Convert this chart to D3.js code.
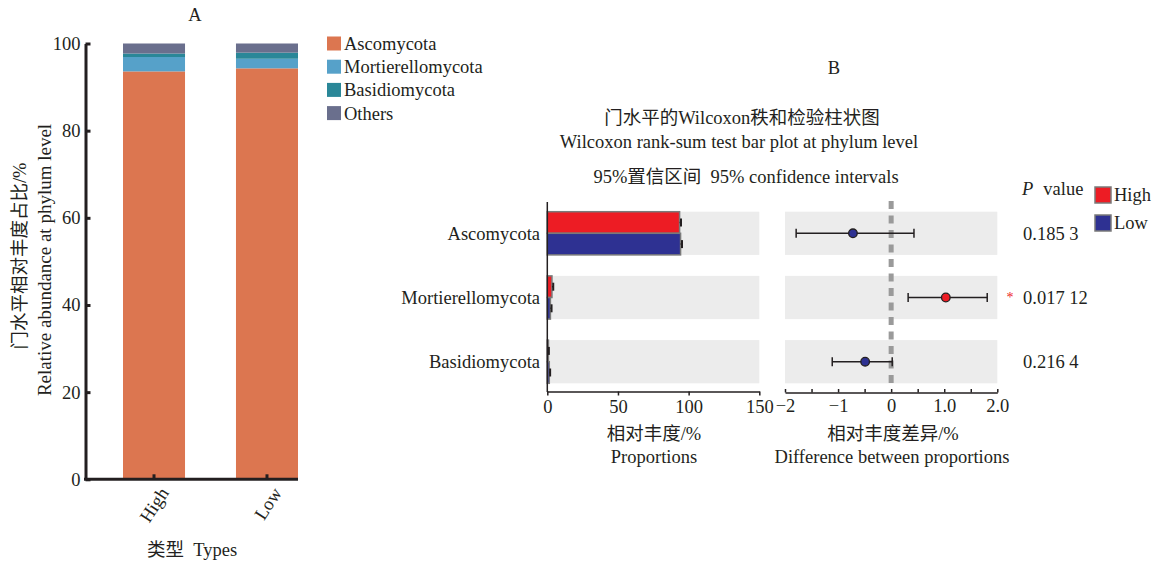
<!DOCTYPE html>
<html>
<head>
<meta charset="utf-8">
<script src="https://cdn.jsdelivr.net/npm/d3@7"></script>
<style>
  html, body { margin: 0; padding: 0; background: #fff; }
  svg text { font-family: "Liberation Serif", "Noto Sans CJK SC", serif; fill: #231f20; white-space: pre; }
</style>
</head>
<body>
<script>
// ---- Panel A: stacked relative abundance ----
const typeNames = ["High", "Low"];
const phyla = ["Ascomycota", "Mortierellomycota", "Basidiomycota", "Others"];
const abundHigh = [93.6, 3.3, 0.8, 2.3];
const abundLow = [94.3, 2.2, 1.4, 2.1];
const phylumColors = ["#dc7650", "#56a1c9", "#2a8798", "#6a6f8d"];
const abundTicks = [0, 20, 40, 60, 80, 100];

// ---- Panel B: Wilcoxon rank-sum test ----
const testPhyla = ["Ascomycota", "Mortierellomycota", "Basidiomycota"];
const groups = ["High", "Low"];
const groupColors = ["#ed1c24", "#2e3192"];
const meanHigh = [93.6, 3.3, 0.8];
const meanLow = [94.3, 2.2, 1.4];
const sdHigh = [1.0, 0.9, 0.3];
const sdLow = [1.0, 0.8, 0.6];
const diffEst = [-0.72, 1.03, -0.49];
const ciLower = [-1.79, 0.32, -1.11];
const ciUpper = [0.43, 1.81, 0.02];
const pValues = ["0.185 3", "0.017 12", "0.216 4"];
const significant = [false, true, false];
const propTicks = [0, 50, 100, 150];
const diffTicks = [-2, -1.5, -1, -0.5, 0, 0.5, 1, 1.5, 2];
const diffTickLabels = { "-2": "\u22122", "-1": "\u22121", "0": "0", "1": "1.0", "2": "2.0" };

const FS = 18.5;
const ink = "#231f20";

const svg = d3.select("body").append("svg")
  .attr("width", 1157).attr("height", 562);

// ================= Panel A =================
const gA = svg.append("g");
const yA = d3.scaleLinear().domain([0, 100]).range([479.3, 43.5]);
const xA = d3.scaleBand().domain(typeNames).range([123, 298])
  .paddingInner(0.451).paddingOuter(0);

const tableA = typeNames.map((t, i) => {
  const vals = i === 0 ? abundHigh : abundLow;
  const row = { type: t };
  phyla.forEach((p, j) => row[p] = vals[j]);
  return row;
});
const stackA = d3.stack().keys(phyla)(tableA);

gA.selectAll("g.layer").data(stackA).join("g")
  .attr("class", "layer")
  .attr("fill", (d, i) => phylumColors[i])
  .selectAll("rect").data(d => d).join("rect")
  .attr("x", d => xA(d.data.type))
  .attr("width", xA.bandwidth())
  .attr("y", d => yA(d[1]))
  .attr("height", d => yA(d[0]) - yA(d[1]));

// y axis
const yAxisA = gA.append("g").attr("transform", "translate(85.5,0)")
  .call(d3.axisLeft(yA).tickValues(abundTicks).tickSizeInner(-5).tickSizeOuter(0).tickPadding(5));
yAxisA.select(".domain").attr("stroke", ink).attr("stroke-width", 3);
yAxisA.selectAll(".tick line").attr("stroke", ink).attr("stroke-width", 3);
yAxisA.selectAll(".tick text").attr("font-size", FS).attr("fill", ink)
  .style("font-family", '"Liberation Serif", serif');

// x axis
const xAxisA = gA.append("g").attr("transform", "translate(0,479.3)")
  .call(d3.axisBottom(xA).tickSizeInner(-5).tickSizeOuter(0).tickFormat(""));
xAxisA.select(".domain").attr("d", "M84,0H298").attr("stroke", ink).attr("stroke-width", 3);
xAxisA.selectAll(".tick line").attr("stroke", ink).attr("stroke-width", 3);
xAxisA.selectAll(".tick").append("text")
  .attr("transform", "translate(10,10) rotate(-57)")
  .attr("text-anchor", "end")
  .attr("dy", "0.35em")
  .attr("font-size", FS)
  .text(d => d);

gA.append("text").attr("x", 195).attr("y", 15).attr("dy", "0.35em")
  .attr("text-anchor", "middle").attr("font-size", FS).text("A");

gA.append("text").attr("x", 192).attr("y", 550).attr("dy", "0.35em")
  .attr("text-anchor", "middle").attr("font-size", FS)
  .text("类型  Types");

gA.append("text")
  .attr("transform", "translate(20,256) rotate(-90)")
  .attr("text-anchor", "middle").attr("dy", "0.35em").attr("font-size", FS)
  .text("门水平相对丰度占比/%");
gA.append("text")
  .attr("transform", "translate(44,260) rotate(-90)")
  .attr("text-anchor", "middle").attr("dy", "0.35em").attr("font-size", 19)
  .text("Relative abundance at phylum level");

// legend A
const legA = gA.append("g");
phyla.forEach((p, i) => {
  const cy = 43.5 + i * 23.2;
  legA.append("rect").attr("x", 327).attr("y", cy - 7).attr("width", 14).attr("height", 14)
    .attr("fill", phylumColors[i]);
  legA.append("text").attr("x", 344).attr("y", cy).attr("dy", "0.35em")
    .attr("font-size", FS).text(p);
});

// ================= Panel B =================
const gB = svg.append("g");
const yB = d3.scaleBand().domain(testPhyla).range([211.7, 383.3])
  .paddingInner(0.327).paddingOuter(0);
const xP = d3.scaleLinear().domain([0, 150]).range([547.3, 759.3]);
const xD = d3.scaleLinear().domain([-2, 2]).range([785, 997.3]);
const half = yB.bandwidth() / 2;

// titles
gB.append("text").attr("x", 834).attr("y", 68).attr("dy", "0.35em")
  .attr("text-anchor", "middle").attr("font-size", FS).text("B");
gB.append("text").attr("x", 742).attr("y", 118).attr("dy", "0.35em")
  .attr("text-anchor", "middle").attr("font-size", FS).text("门水平的Wilcoxon秩和检验柱状图");
gB.append("text").attr("x", 739).attr("y", 142).attr("dy", "0.35em")
  .attr("text-anchor", "middle").attr("font-size", FS).text("Wilcoxon rank-sum test bar plot at phylum level");
gB.append("text").attr("x", 746).attr("y", 177).attr("dy", "0.35em")
  .attr("text-anchor", "middle").attr("font-size", FS).text("95%置信区间  95% confidence intervals");

// grey row backgrounds
gB.selectAll("rect.bgP").data(testPhyla).join("rect").attr("class", "bgP")
  .attr("x", xP(0)).attr("width", xP(150) - xP(0))
  .attr("y", d => yB(d)).attr("height", yB.bandwidth()).attr("fill", "#ececec");
gB.selectAll("rect.bgD").data(testPhyla).join("rect").attr("class", "bgD")
  .attr("x", xD(-2)).attr("width", xD(2) - xD(-2))
  .attr("y", d => yB(d)).attr("height", yB.bandwidth()).attr("fill", "#ececec");

// proportion bars
const barRows = [];
testPhyla.forEach((p, i) => {
  barRows.push({ phylum: p, g: 0, mean: meanHigh[i], sd: sdHigh[i] });
  barRows.push({ phylum: p, g: 1, mean: meanLow[i], sd: sdLow[i] });
});
gB.selectAll("rect.bar").data(barRows).join("rect").attr("class", "bar")
  .attr("x", xP(0))
  .attr("y", d => yB(d.phylum) + d.g * half)
  .attr("width", d => xP(d.mean) - xP(0))
  .attr("height", half)
  .attr("fill", d => groupColors[d.g])
  .attr("stroke", "#7a7a7a").attr("stroke-width", 1.5);

// error bars on proportions
gB.selectAll("line.errH").data(barRows).join("line").attr("class", "errH")
  .attr("x1", d => xP(d.mean)).attr("x2", d => xP(d.mean + d.sd))
  .attr("y1", d => yB(d.phylum) + d.g * half + half / 2)
  .attr("y2", d => yB(d.phylum) + d.g * half + half / 2)
  .attr("stroke", ink).attr("stroke-width", 1.5);
gB.selectAll("line.errC").data(barRows).join("line").attr("class", "errC")
  .attr("x1", d => xP(d.mean + d.sd)).attr("x2", d => xP(d.mean + d.sd))
  .attr("y1", d => yB(d.phylum) + d.g * half + half / 2 - 4)
  .attr("y2", d => yB(d.phylum) + d.g * half + half / 2 + 4)
  .attr("stroke", ink).attr("stroke-width", 2);

// proportion axes
const axP = gB.append("g").attr("transform", "translate(0,391.5)")
  .call(d3.axisBottom(xP).tickValues(propTicks).tickSizeInner(4).tickSizeOuter(0).tickPadding(4));
axP.select(".domain").attr("stroke", ink).attr("stroke-width", 1.5);
axP.selectAll(".tick line").attr("stroke", ink).attr("stroke-width", 1.5);
axP.selectAll(".tick text").attr("font-size", FS).attr("fill", ink)
  .style("font-family", '"Liberation Serif", serif');

gB.append("line").attr("x1", xP(0)).attr("x2", xP(0)).attr("y1", 202).attr("y2", 392)
  .attr("stroke", ink).attr("stroke-width", 1.5);

// category labels
gB.selectAll("text.cat").data(testPhyla).join("text").attr("class", "cat")
  .attr("x", 540).attr("y", d => yB(d) + yB.bandwidth() / 2).attr("dy", "0.35em")
  .attr("text-anchor", "end").attr("font-size", FS).text(d => d);

// zero reference line
gB.append("line").attr("x1", xD(0)).attr("x2", xD(0)).attr("y1", 201).attr("y2", 386)
  .attr("stroke", "#9a9a9a").attr("stroke-width", 5).attr("stroke-dasharray", "8,6.5");

// confidence intervals
const ciRows = testPhyla.map((p, i) => ({
  phylum: p, est: diffEst[i], lo: ciLower[i], hi: ciUpper[i]
}));
const cyOf = d => yB(d.phylum) + yB.bandwidth() / 2;
gB.selectAll("line.ci").data(ciRows).join("line").attr("class", "ci")
  .attr("x1", d => xD(d.lo)).attr("x2", d => xD(d.hi))
  .attr("y1", cyOf).attr("y2", cyOf)
  .attr("stroke", ink).attr("stroke-width", 1.5);
["lo", "hi"].forEach(k => {
  gB.selectAll("line.cap" + k).data(ciRows).join("line").attr("class", "cap" + k)
    .attr("x1", d => xD(d[k])).attr("x2", d => xD(d[k]))
    .attr("y1", d => cyOf(d) - 4.5).attr("y2", d => cyOf(d) + 4.5)
    .attr("stroke", ink).attr("stroke-width", 1.5);
});
gB.selectAll("circle.est").data(ciRows).join("circle").attr("class", "est")
  .attr("cx", d => xD(d.est)).attr("cy", cyOf).attr("r", 4.3)
  .attr("fill", d => d.est > 0 ? groupColors[0] : groupColors[1])
  .attr("stroke", ink).attr("stroke-width", 1.3);

// difference axis
const axD = gB.append("g").attr("transform", "translate(0,392.5)")
  .call(d3.axisBottom(xD).tickValues(diffTicks).tickSizeInner(-3.5).tickSizeOuter(0).tickPadding(6)
    .tickFormat(d => diffTickLabels[String(d)] || ""));
axD.select(".domain").attr("stroke", ink).attr("stroke-width", 1.5);
axD.selectAll(".tick line").attr("stroke", ink).attr("stroke-width", 1.5);
axD.selectAll(".tick text").attr("font-size", FS).attr("fill", ink)
  .style("font-family", '"Liberation Serif", serif');

// axis titles
gB.append("text").attr("x", 654).attr("y", 434).attr("dy", "0.35em")
  .attr("text-anchor", "middle").attr("font-size", FS).text("相对丰度/%");
gB.append("text").attr("x", 654).attr("y", 457).attr("dy", "0.35em")
  .attr("text-anchor", "middle").attr("font-size", FS).text("Proportions");
gB.append("text").attr("x", 893).attr("y", 434).attr("dy", "0.35em")
  .attr("text-anchor", "middle").attr("font-size", FS).text("相对丰度差异/%");
gB.append("text").attr("x", 892).attr("y", 457).attr("dy", "0.35em")
  .attr("text-anchor", "middle").attr("font-size", FS).text("Difference between proportions");

// p values
const pHead = gB.append("text").attr("x", 1022).attr("y", 189).attr("dy", "0.35em").attr("font-size", FS);
pHead.append("tspan").attr("font-style", "italic").text("P");
pHead.append("tspan").attr("dx", 10).text("value");
gB.selectAll("text.pv").data(testPhyla).join("text").attr("class", "pv")
  .attr("x", 1023).attr("y", d => yB(d) + yB.bandwidth() / 2).attr("dy", "0.35em")
  .attr("font-size", FS).text((d, i) => pValues[i]);
gB.selectAll("text.star").data(testPhyla.filter((d, i) => significant[i])).join("text").attr("class", "star")
  .attr("x", 1010).attr("y", d => yB(d) + yB.bandwidth() / 2).attr("dy", "0.35em")
  .attr("text-anchor", "middle").attr("font-size", 14).style("fill", "#ed1c24").text("*");

// legend B
groups.forEach((g, i) => {
  const cy = 195 + i * 28;
  gB.append("rect").attr("x", 1095).attr("y", cy - 8).attr("width", 16).attr("height", 16)
    .attr("fill", groupColors[i]).attr("stroke", "#7a7a7a").attr("stroke-width", 1.5);
  gB.append("text").attr("x", 1114).attr("y", cy).attr("dy", "0.35em")
    .attr("font-size", FS).text(g);
});
</script>
</body>
</html>
